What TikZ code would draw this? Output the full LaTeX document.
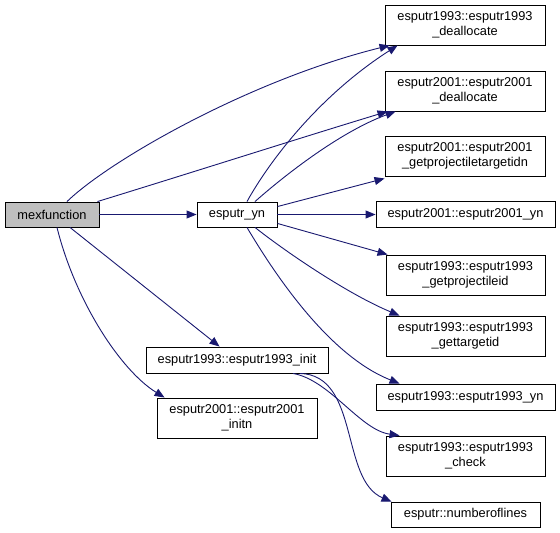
\documentclass[tikz,border=0pt]{standalone}
\usepackage{fontspec}
\setmainfont{Liberation Sans}
\usetikzlibrary{arrows.meta,calc}
\definecolor{edgec}{HTML}{191970}
\begin{document}
\begin{tikzpicture}[x=1pt,y=-1pt,
  box/.style={draw=black,line width=0.9pt,fill=white,rectangle,inner sep=0pt,
    font=\fontsize{12.8}{15}\selectfont,align=center},
  edge/.style={draw=edgec,line width=0.9pt,-{Triangle[length=10pt,width=8pt]}}]
\useasboundingbox (0,0) rectangle (560,533);
\node[box,fill={rgb,255:red,191;green,191;blue,191},minimum width=94pt,minimum height=25pt] (mex) at (52,214.5) {mexfunction};
\node[box,minimum width=80pt,minimum height=25pt] (yn) at (237,214.5) {esputr\_yn};
\node[box,minimum width=160pt,minimum height=40pt] (d1993) at (465,25) {esputr1993::esputr1993\\\_deallocate};
\node[box,minimum width=160pt,minimum height=40pt] (d2001) at (465,91) {esputr2001::esputr2001\\\_deallocate};
\node[box,minimum width=160pt,minimum height=40pt] (gptidn) at (465,156) {esputr2001::esputr2001\\\_getprojectiletargetidn};
\node[box,minimum width=179pt,minimum height=26pt] (yn2001) at (465.5,214.5) {esputr2001::esputr2001\_yn};
\node[box,minimum width=159pt,minimum height=40pt] (gpid) at (465.5,275) {esputr1993::esputr1993\\\_getprojectileid};
\node[box,minimum width=159pt,minimum height=40pt] (gtid) at (465.5,336) {esputr1993::esputr1993\\\_gettargetid};
\node[box,minimum width=179pt,minimum height=26pt] (yn1993) at (465.5,397) {esputr1993::esputr1993\_yn};
\node[box,minimum width=159pt,minimum height=40pt] (check) at (465.5,456) {esputr1993::esputr1993\\\_check};
\node[box,minimum width=149pt,minimum height=25pt] (nol) at (465.5,514.5) {esputr::numberoflines};
\node[box,minimum width=182pt,minimum height=26pt] (init) at (237,360) {esputr1993::esputr1993\_init};
\node[box,minimum width=160pt,minimum height=40pt] (initn) at (237,418) {esputr2001::esputr2001\\\_initn};
% edges from mexfunction
\draw[edge] ($(mex.north)+(15,0)$) .. controls (110,160) and (250,80) .. ($(d1993.south west)+(5,0)$);
\draw[edge] ($(mex.north east)+(-2,0)$) .. controls (200,170) and (300,138) .. ($(d2001.south west)+(3,0)$);
\draw[edge] (mex.east) -- (yn.west);
\draw[edge] ($(mex.south)+(18,0)$) -- ($(init.north west)+(74,0)$);
\draw[edge] ($(mex.south)+(5,0)$) .. controls (75,300) and (120,370) .. ($(initn.north west)+(8,0)$);
% edges from esputr_yn
\draw[edge] ($(yn.north)+(10,0)$) .. controls (270,160) and (320,95) .. ($(d1993.south west)+(13,0)$);
\draw[edge] ($(yn.north)+(18,0)$) .. controls (285,175) and (340,132) .. ($(d2001.south west)+(11,0)$);
\draw[edge] ($(yn.north east)+(0,5)$) -- ($(gptidn.south west)+(0,2)$);
\draw[edge] (yn.east) -- (yn2001.west);
\draw[edge] ($(yn.south east)+(0,-4)$) -- ($(gpid.north west)+(2,0)$);
\draw[edge] ($(yn.south)+(18,0)$) .. controls (290,255) and (350,295) .. ($(gtid.north west)+(14,0)$);
\draw[edge] ($(yn.south)+(10,0)$) .. controls (290,300) and (340,360) .. ($(yn1993.north west)+(24,0)$);
% edges from init
\draw[edge] ($(init.south)+(56,0)$) .. controls (330,380) and (360,430) .. ($(check.north west)+(14,0)$);
\draw[edge] ($(init.south)+(63,0)$) .. controls (360,375) and (340,480) .. ($(nol.north west)+(1,0)$);
\end{tikzpicture}
\end{document}
